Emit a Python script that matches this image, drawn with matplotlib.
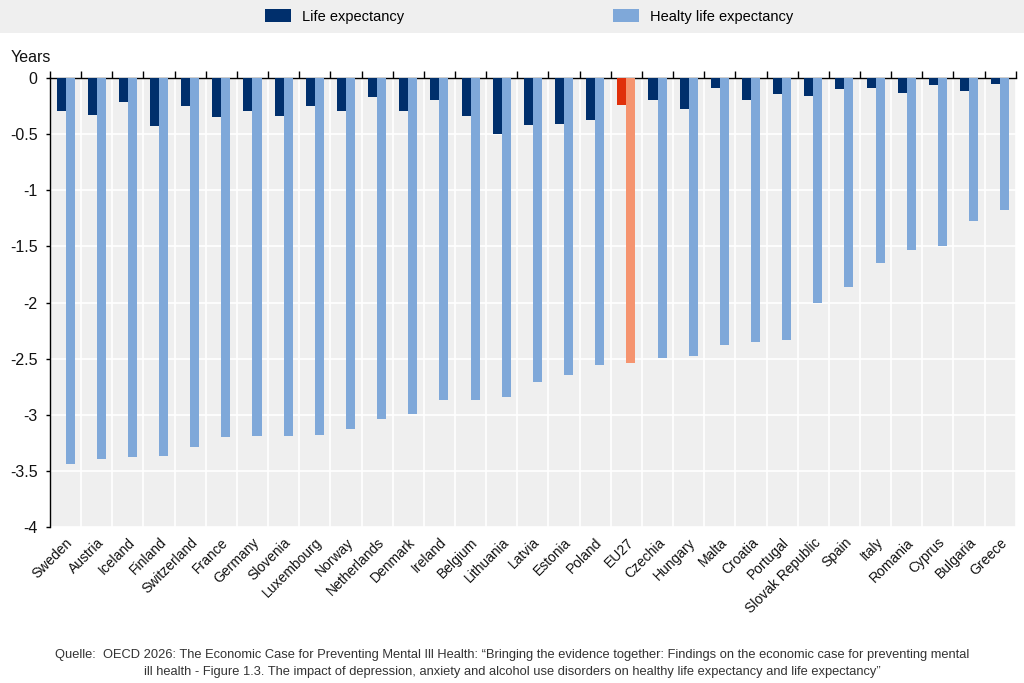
import matplotlib as mpl

mpl.use("Agg")

import matplotlib.pyplot as plt
import numpy as np
from matplotlib.patches import Patch, Rectangle

countries = [
    "Sweden", "Austria", "Iceland", "Finland", "Switzerland", "France", "Germany",
    "Slovenia", "Luxembourg", "Norway", "Netherlands", "Denmark", "Ireland", "Belgium",
    "Lithuania", "Latvia", "Estonia", "Poland", "EU27", "Czechia", "Hungary", "Malta",
    "Croatia", "Portugal", "Slovak Republic", "Spain", "Italy", "Romania", "Cyprus",
    "Bulgaria", "Greece",
]
life_exp = [
    -0.29, -0.33, -0.21, -0.43, -0.25, -0.35, -0.29, -0.34, -0.25, -0.29, -0.17,
    -0.29, -0.20, -0.34, -0.50, -0.42, -0.41, -0.37, -0.24, -0.20, -0.28, -0.09,
    -0.20, -0.14, -0.16, -0.10, -0.09, -0.13, -0.06, -0.12, -0.05,
]
healthy_life_exp = [
    -3.44, -3.39, -3.38, -3.37, -3.29, -3.20, -3.19, -3.19, -3.18, -3.13, -3.04,
    -2.99, -2.87, -2.87, -2.84, -2.71, -2.65, -2.56, -2.54, -2.49, -2.48, -2.38,
    -2.35, -2.33, -2.00, -1.86, -1.65, -1.53, -1.50, -1.27, -1.18,
]
highlight = "EU27"
y_ticks = [0, -0.5, -1, -1.5, -2, -2.5, -3, -3.5, -4]

DARK = "#002f6c"
LIGHT = "#7fa8d9"
DARK_HI = "#e0300b"
LIGHT_HI = "#f5946f"
BG = "#efefef"

plt.rcParams["font.family"] = ["Liberation Sans Narrow", "Liberation Sans", "DejaVu Sans"]

fig = plt.figure(figsize=(10.24, 6.83), dpi=100)
ax = fig.add_axes([0.0488, 0.2284, 0.9432, 0.6574])

x = np.arange(len(countries))
width = 0.29
dark_colors = [DARK_HI if c == highlight else DARK for c in countries]
light_colors = [LIGHT_HI if c == highlight else LIGHT for c in countries]
ax.bar(x - width / 2, life_exp, width, color=dark_colors, zorder=3)
ax.bar(x + width / 2, healthy_life_exp, width, color=light_colors, zorder=3)

ax.set_facecolor(BG)
ax.set_xlim(-0.5, len(countries) - 0.5)
ax.set_ylim(-4, 0)
ax.set_yticks(y_ticks)
ax.set_yticklabels([f"{v:g}" for v in y_ticks], fontsize=11.5, color="#111111")
ax.set_xticks(x)
ax.set_xticklabels(countries, rotation=45, ha="right", rotation_mode="anchor", fontsize=10, color="#111111")
ax.set_xticks(np.arange(len(countries) + 1) - 0.5, minor=True)
ax.tick_params(axis="x", which="major", length=0, pad=6)
ax.tick_params(axis="x", which="minor", bottom=False, top=True, direction="out", length=5, width=1)
ax.tick_params(axis="y", direction="out", length=3, width=1, pad=6)
ax.grid(True, which="minor", axis="x", color="white", linewidth=1.2, zorder=1)
ax.grid(True, which="major", axis="y", color="white", linewidth=1.2, zorder=1)
ax.set_axisbelow(True)
for side in ("right", "bottom"):
    ax.spines[side].set_visible(False)
ax.spines["left"].set_linewidth(1)
ax.spines["top"].set_linewidth(1)

fig.text(0.010, 0.905, "Years", fontsize=11.5, ha="left", va="bottom", color="#111111")

# legend band across the top
fig.patches.append(Rectangle((0, 0.952), 1, 0.048, transform=fig.transFigure,
                             facecolor=BG, edgecolor="none", zorder=0))
handles = [Patch(facecolor=DARK, edgecolor="none"), Patch(facecolor=LIGHT, edgecolor="none")]
fig.legend(handles, ["Life expectancy", "Healty life expectancy"], loc="center left",
           bbox_to_anchor=(0.259, 0.976), ncol=2, frameon=False, fontsize=10.5,
           handlelength=1.75, handleheight=1.0, handletextpad=0.8, columnspacing=14.3,
           borderaxespad=0, borderpad=0)

fig.text(0.5, 0.008,
         "Quelle:  OECD 2026: The Economic Case for Preventing Mental Ill Health: \u201cBringing the evidence together: "
         "Findings on the economic case for preventing mental\n"
         "ill health - Figure 1.3. The impact of depression, anxiety and alcohol use disorders on healthy life "
         "expectancy and life expectancy\u201d",
         ha="center", va="bottom", fontsize=9.3, color="#333333", linespacing=1.5)

fig.savefig("out.png", facecolor="white")
